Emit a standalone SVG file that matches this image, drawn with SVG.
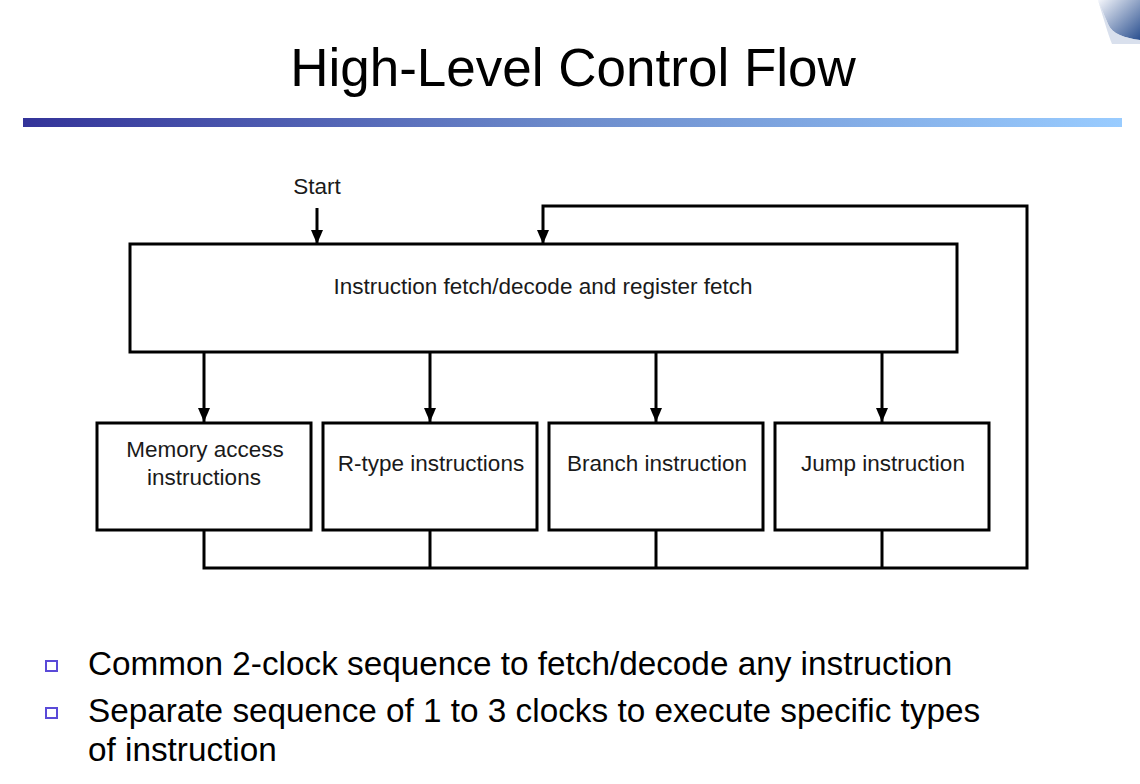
<svg xmlns="http://www.w3.org/2000/svg" width="1140" height="784" viewBox="0 0 1140 784">
<style>
.t{font-family:"Liberation Sans",Arial,sans-serif;fill:#000}
.d{font-family:"Liberation Sans",Arial,sans-serif;fill:#1a1a1a;font-size:22.5px}
.box{fill:#fff;stroke:#000;stroke-width:3}
.ln{fill:none;stroke:#000;stroke-width:3}
.bul{fill:#fff;stroke:#5a4ad8;stroke-width:2}
</style>
<defs>
<linearGradient id="bar" x1="0" x2="1" y1="0" y2="0">
<stop offset="0" stop-color="#333399"/>
<stop offset="0.5" stop-color="#6d8ccc"/>
<stop offset="1" stop-color="#99ccff"/>
</linearGradient>
<linearGradient id="corner" x1="0" y1="0" x2="1" y2="1">
<stop offset="0" stop-color="#f4f6fb"/>
<stop offset="1" stop-color="#2a4f8f"/>
</linearGradient>
<marker id="ah" markerWidth="14" markerHeight="12" refX="14" refY="6" orient="auto" markerUnits="userSpaceOnUse" viewBox="0 0 14 12">
<path d="M0,0 L14,6 L0,12 Z" fill="#000"/>
</marker>
</defs>
<rect width="1140" height="784" fill="#fff"/>
<path d="M1098,0 L1140,0 L1140,40 C1125,38 1112,34 1108,24 C1104,14 1100,6 1098,0 Z" fill="url(#corner)"/>
<path d="M1098,0 C1104,20 1108,34 1112,44 L1140,44 L1140,40 C1125,38 1112,34 1108,24 C1104,14 1100,6 1098,0 Z" fill="#c9d3e6" opacity="0.7"/>
<text class="t" x="573" y="86" font-size="53" text-anchor="middle">High-Level Control Flow</text>
<rect x="23" y="118" width="1099" height="9" fill="url(#bar)"/>
<text class="d" x="317" y="194" text-anchor="middle">Start</text>
<g id="connectors">
<line class="ln" x1="317" y1="208" x2="317" y2="244" marker-end="url(#ah)"/>
<path class="ln" d="M204,530 V568 H1027 V206 H543 V244" marker-end="url(#ah)"/>
<line class="ln" x1="430" y1="530" x2="430" y2="568"/>
<line class="ln" x1="656" y1="530" x2="656" y2="568"/>
<line class="ln" x1="882" y1="530" x2="882" y2="568"/>
<line class="ln" x1="204" y1="352" x2="204" y2="422" marker-end="url(#ah)"/>
<line class="ln" x1="430" y1="352" x2="430" y2="422" marker-end="url(#ah)"/>
<line class="ln" x1="656" y1="352" x2="656" y2="422" marker-end="url(#ah)"/>
<line class="ln" x1="882" y1="352" x2="882" y2="422" marker-end="url(#ah)"/>
</g>
<g id="fetch">
<rect class="box" x="130" y="244" width="827" height="108"/>
<text class="d" x="543" y="294" text-anchor="middle">Instruction fetch/decode and register fetch</text>
</g>
<g id="mem">
<rect class="box" x="97" y="423" width="214" height="107"/>
<text class="d" x="205" y="457" text-anchor="middle">Memory access</text>
<text class="d" x="204" y="485" text-anchor="middle">instructions</text>
</g>
<g id="rtype">
<rect class="box" x="323" y="423" width="214" height="107"/>
<text class="d" x="431" y="471" text-anchor="middle">R-type instructions</text>
</g>
<g id="branch">
<rect class="box" x="549" y="423" width="214" height="107"/>
<text class="d" x="657" y="471" text-anchor="middle">Branch instruction</text>
</g>
<g id="jump">
<rect class="box" x="775" y="423" width="214" height="107"/>
<text class="d" x="883" y="471" text-anchor="middle">Jump instruction</text>
</g>
<rect class="bul" x="46" y="661" width="11" height="10"/>
<rect class="bul" x="46" y="708" width="11" height="10"/>
<text class="t" x="88" y="675" font-size="33.3">Common 2-clock sequence to fetch/decode any instruction</text>
<text class="t" x="88" y="722" font-size="33.3">Separate sequence of 1 to 3 clocks to execute specific types</text>
<text class="t" x="88" y="761" font-size="33.3">of instruction</text>
</svg>
